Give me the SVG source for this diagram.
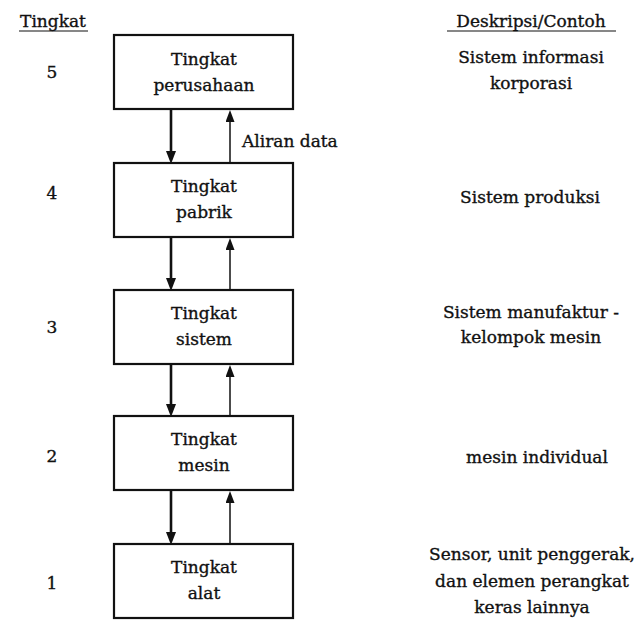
<svg xmlns="http://www.w3.org/2000/svg" width="643" height="620" viewBox="0 0 643 620">
<style>
text{font-family:"DejaVu Serif","Liberation Serif",serif;font-size:17px;fill:#111;stroke:#111;stroke-width:0.35}
.c{text-anchor:middle}
.box{fill:#fff;stroke:#111;stroke-width:2.2}
.dn{stroke:#111;stroke-width:2.6;fill:none}
.up{stroke:#111;stroke-width:1.5;fill:none}
.ul{stroke:#111;stroke-width:1.2}
</style>
<defs>
<marker id="hd" markerUnits="userSpaceOnUse" markerWidth="14" markerHeight="12" refX="2" refY="5" orient="auto">
<path d="M0,0 L13,5 L0,10 z" fill="#111"/>
</marker>
<marker id="hu" markerUnits="userSpaceOnUse" markerWidth="14" markerHeight="12" refX="2" refY="4.5" orient="auto">
<path d="M0,0 L12,4.5 L0,9 z" fill="#111"/>
</marker>
</defs>
<rect width="643" height="620" fill="#fff"/>
<g id="headers">
<text x="53" y="27" class="c">Tingkat</text>
<line x1="19" y1="31" x2="88" y2="31" class="ul"/>
<text x="531" y="27" class="c">Deskripsi/Contoh</text>
<line x1="447" y1="31" x2="616" y2="31" class="ul"/>
</g>
<g id="numbers">
<text x="52" y="78" class="c">5</text>
<text x="52" y="199" class="c">4</text>
<text x="52" y="333" class="c">3</text>
<text x="52" y="462" class="c">2</text>
<text x="52" y="589" class="c">1</text>
</g>
<g id="connectors">
<path d="M171,109 V153" class="dn" marker-end="url(#hd)"/>
<path d="M230,163 V120" class="up" marker-end="url(#hu)"/>
<path d="M171,237 V280" class="dn" marker-end="url(#hd)"/>
<path d="M230,290 V248" class="up" marker-end="url(#hu)"/>
<path d="M171,364 V406" class="dn" marker-end="url(#hd)"/>
<path d="M230,416 V375" class="up" marker-end="url(#hu)"/>
<path d="M171,490 V534" class="dn" marker-end="url(#hd)"/>
<path d="M230,544 V501" class="up" marker-end="url(#hu)"/>
<text x="242" y="147">Aliran data</text>
</g>
<g id="node5">
<rect x="114" y="35" width="179" height="74" class="box"/>
<text x="204" y="65" class="c">Tingkat</text>
<text x="204" y="91" class="c">perusahaan</text>
</g>
<g id="node4">
<rect x="114" y="163" width="179" height="74" class="box"/>
<text x="204" y="192" class="c">Tingkat</text>
<text x="204" y="218" class="c">pabrik</text>
</g>
<g id="node3">
<rect x="114" y="290" width="179" height="74" class="box"/>
<text x="204" y="319" class="c">Tingkat</text>
<text x="204" y="345" class="c">sistem</text>
</g>
<g id="node2">
<rect x="114" y="416" width="179" height="74" class="box"/>
<text x="204" y="445" class="c">Tingkat</text>
<text x="204" y="471" class="c">mesin</text>
</g>
<g id="node1">
<rect x="114" y="544" width="179" height="74" class="box"/>
<text x="204" y="573" class="c">Tingkat</text>
<text x="204" y="599" class="c">alat</text>
</g>
<g id="descriptions">
<text x="531" y="63" class="c">Sistem informasi</text>
<text x="531" y="89" class="c">korporasi</text>
<text x="530" y="203" class="c">Sistem produksi</text>
<text x="531" y="318" class="c">Sistem manufaktur -</text>
<text x="531" y="343" class="c">kelompok mesin</text>
<text x="537" y="463" class="c">mesin individual</text>
<text x="532" y="560" class="c">Sensor, unit penggerak,</text>
<text x="532" y="587" class="c">dan elemen perangkat</text>
<text x="532" y="613" class="c">keras lainnya</text>
</g>
</svg>
